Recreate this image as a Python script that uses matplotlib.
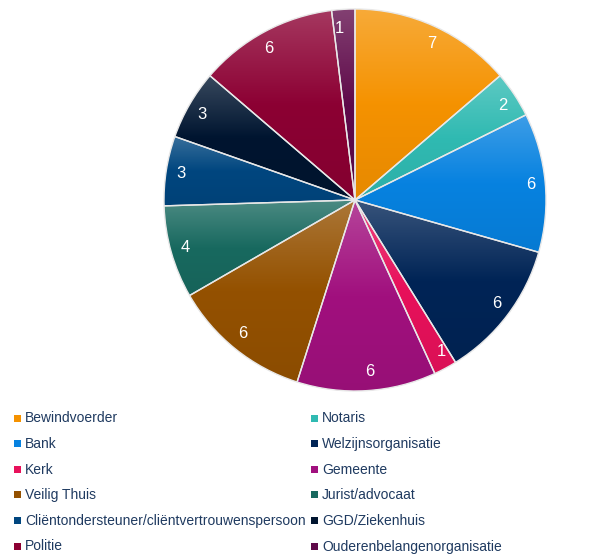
import numpy as np
import matplotlib.pyplot as plt
from matplotlib.colors import to_rgb
from matplotlib.patches import Rectangle

plt.rcParams['font.family'] = ['Liberation Sans', 'DejaVu Sans']

# data
categories = ['Bewindvoerder', 'Notaris', 'Bank', 'Welzijnsorganisatie', 'Kerk',
              'Gemeente', 'Veilig Thuis', 'Jurist/advocaat',
              'Cliëntondersteuner/cliëntvertrouwenspersoon', 'GGD/Ziekenhuis',
              'Politie', 'Ouderenbelangenorganisatie']
counts = [7, 2, 6, 6, 1, 6, 6, 4, 3, 3, 6, 1]
colors = ['#F59200', '#30BAB2', '#0782E0', '#002456', '#E8115B', '#A1107E',
          '#945100', '#18695F', '#00467F', '#001530', '#8C0033', '#5F0A4A']

fig = plt.figure(figsize=(5.99, 5.54), dpi=100)
cx, cy, r = 355, 200, 191
ax = fig.add_axes([(cx - r) / 599, (554 - cy - r) / 554, 2 * r / 599, 2 * r / 554])

wedges, texts = ax.pie(counts, colors=colors, startangle=90, counterclock=False,
                       labels=[str(c) for c in counts], labeldistance=0.9,
                       wedgeprops=dict(edgecolor='#E8E8E8', linewidth=1),
                       textprops=dict(color='white', fontsize=12))
ax.set_aspect('equal')
ax.axis('off')


def shade(c, f):
    c = np.array(to_rgb(c))
    if f > 0:
        return c + (1 - c) * f
    return c * (1 + f)


# vertical gradient inside each slice (lighter on top)
for w, c in zip(wedges, colors):
    bb = w.get_path().get_extents(w.get_patch_transform())
    t = np.linspace(0, 1, 100)[:, None, None]
    top, mid, bot = shade(c, 0.22), shade(c, 0.0), shade(c, -0.06)
    up = np.clip(t / 0.5, 0, 1)
    lo = np.clip((t - 0.5) / 0.5, 0, 1)
    grad = np.where(t < 0.5, (1 - up) * top + up * mid, (1 - lo) * mid + lo * bot)
    img = ax.imshow(grad, extent=[bb.x0, bb.x1, bb.y0, bb.y1], origin='upper',
                    aspect='auto', zorder=w.get_zorder() + 0.1)
    img.set_clip_path(w)
    w.set_facecolor('none')
    w.set_zorder(w.get_zorder() + 0.2)
for t in texts:
    t.set_zorder(5)
ax.set_xlim(-1, 1)
ax.set_ylim(-1, 1)

# legend, two columns, row-wise order
col_x = [17, 314]
row_y0, row_dy = 418, 25.6
for i, (name, c) in enumerate(zip(categories, colors)):
    x = col_x[i % 2]
    y = row_y0 + (i // 2) * row_dy
    fig.patches.append(Rectangle(((x - 3) / 599, 1 - (y + 3.5) / 554), 7 / 599, 7 / 554,
                                 transform=fig.transFigure, facecolor=c,
                                 edgecolor='none'))
    fig.text((x + 8) / 599, 1 - (y + 0.5) / 554, name, fontsize=10, color='#1F3A60',
             va='center', ha='left')

fig.savefig('out.png', dpi=100)
